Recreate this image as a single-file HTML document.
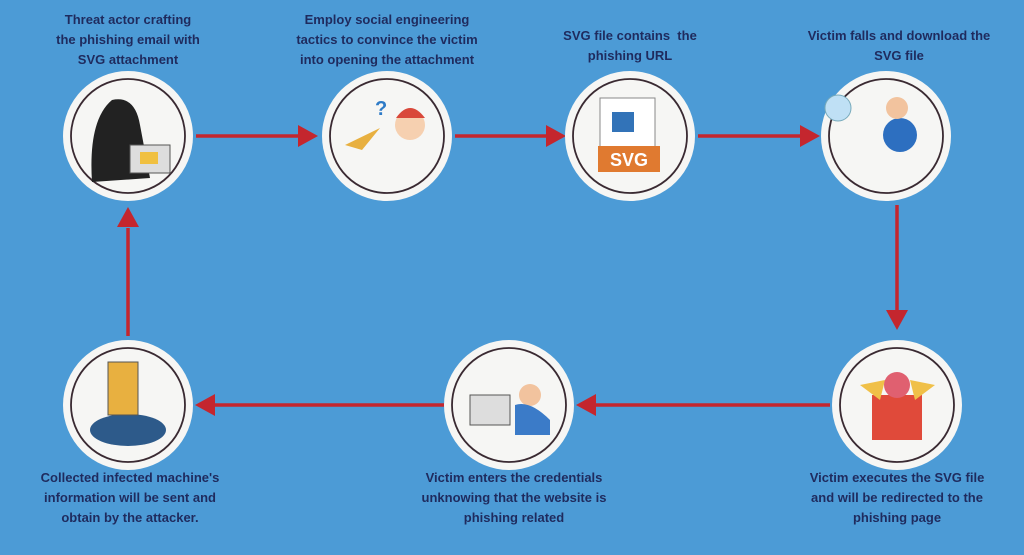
<!DOCTYPE html>
<html><head><style>
html,body{margin:0;padding:0}
body{width:1024px;height:555px;background:#4c9bd6;position:relative;overflow:hidden;font-family:"Liberation Sans",sans-serif}
.t{position:absolute;width:240px;text-align:center;color:#1f2b5e;font-size:13px;line-height:20px;font-weight:bold}
</style></head><body>
<svg width="1024" height="555" style="position:absolute;left:0;top:0">
<g stroke="#c4262e" stroke-width="3.5" fill="none">
<line x1="196" y1="136" x2="300" y2="136"/>
<line x1="455" y1="136" x2="548" y2="136"/>
<line x1="698" y1="136" x2="802" y2="136"/>
<line x1="897" y1="205" x2="897" y2="312"/>
<line x1="830" y1="405" x2="596" y2="405"/>
<line x1="444" y1="405" x2="214" y2="405"/>
<line x1="128" y1="336" x2="128" y2="228"/>
</g>
<g fill="#c4262e">
<path d="M318,136 L298,125 L298,147Z"/>
<path d="M566,136 L546,125 L546,147Z"/>
<path d="M820,136 L800,125 L800,147Z"/>
<path d="M897,330 L886,310 L908,310Z"/>
<path d="M576,405 L596,394 L596,416Z"/>
<path d="M195,405 L215,394 L215,416Z"/>
<path d="M128,207 L117,227 L139,227Z"/>
</g>
<g fill="#f6f6f4">
<circle cx="128" cy="136" r="65"/><circle cx="387" cy="136" r="65"/><circle cx="630" cy="136" r="65"/><circle cx="886" cy="136" r="65"/>
<circle cx="897" cy="405" r="65"/><circle cx="509" cy="405" r="65"/><circle cx="128" cy="405" r="65"/>
</g>
<g fill="none" stroke="#3a2a32" stroke-width="1.8">
<circle cx="128" cy="136" r="57"/><circle cx="387" cy="136" r="57"/><circle cx="630" cy="136" r="57"/><circle cx="886" cy="136" r="57"/>
<circle cx="897" cy="405" r="57"/><circle cx="509" cy="405" r="57"/><circle cx="128" cy="405" r="57"/>
</g>
<!-- icons -->
<path d="M92,182 Q88,120 112,100 Q135,95 140,125 L150,178Z" fill="#222"/>
<rect x="130" y="145" width="40" height="28" fill="#ddd" stroke="#555"/><rect x="140" y="152" width="18" height="12" fill="#f0c040"/>
<path d="M345,145 L380,128 L362,150Z" fill="#e8b040"/><circle cx="410" cy="125" r="15" fill="#f6d0b0"/><path d="M396,118 Q410,98 425,118Z" fill="#d9483a"/>
<text x="375" y="115" fill="#2e7bc7" font-size="20" font-weight="bold">?</text>
<rect x="600" y="98" width="55" height="50" fill="#fff" stroke="#888"/><rect x="612" y="112" width="22" height="20" fill="#3273b8"/>
<rect x="598" y="146" width="62" height="26" fill="#e07a30"/><text x="629" y="166" fill="#fff" font-size="18" font-weight="bold" text-anchor="middle">SVG</text>
<circle cx="900" cy="135" r="17" fill="#2d6fc0"/><circle cx="897" cy="108" r="11" fill="#f2c39e"/><circle cx="838" cy="108" r="13" fill="#bfe0f5" stroke="#7ab"/>
<path d="M872,395 L922,395 L922,440 L872,440Z" fill="#e04a3a"/><path d="M860,385 L885,380 L880,400Z M935,385 L910,380 L915,400Z" fill="#f0c048"/><circle cx="897" cy="385" r="13" fill="#e06070"/>
<rect x="470" y="395" width="40" height="30" fill="#ddd" stroke="#555"/><circle cx="530" cy="395" r="11" fill="#f2c39e"/><path d="M515,405 Q530,400 550,420 L550,435 L515,435Z" fill="#3b7bc8"/>
<ellipse cx="128" cy="430" rx="38" ry="16" fill="#2d5a8a"/><rect x="108" y="362" width="30" height="53" fill="#e8b040" stroke="#555"/>
</svg>
<div class="t" style="left:8px;top:10px">Threat actor crafting<br>the phishing email with<br>SVG attachment</div>
<div class="t" style="left:267px;top:10px">Employ social engineering<br>tactics to convince the victim<br>into opening the attachment</div>
<div class="t" style="left:510px;top:26px">SVG file contains &nbsp;the<br>phishing URL</div>
<div class="t" style="left:779px;top:26px">Victim falls and download the<br>SVG file</div>
<div class="t" style="left:777px;top:468px">Victim executes the SVG file<br>and will be redirected to the<br>phishing page</div>
<div class="t" style="left:394px;top:468px">Victim enters the credentials<br>unknowing that the website is<br>phishing related</div>
<div class="t" style="left:10px;top:468px">Collected infected machine's<br>information will be sent and<br>obtain by the attacker.</div>
</body></html>
